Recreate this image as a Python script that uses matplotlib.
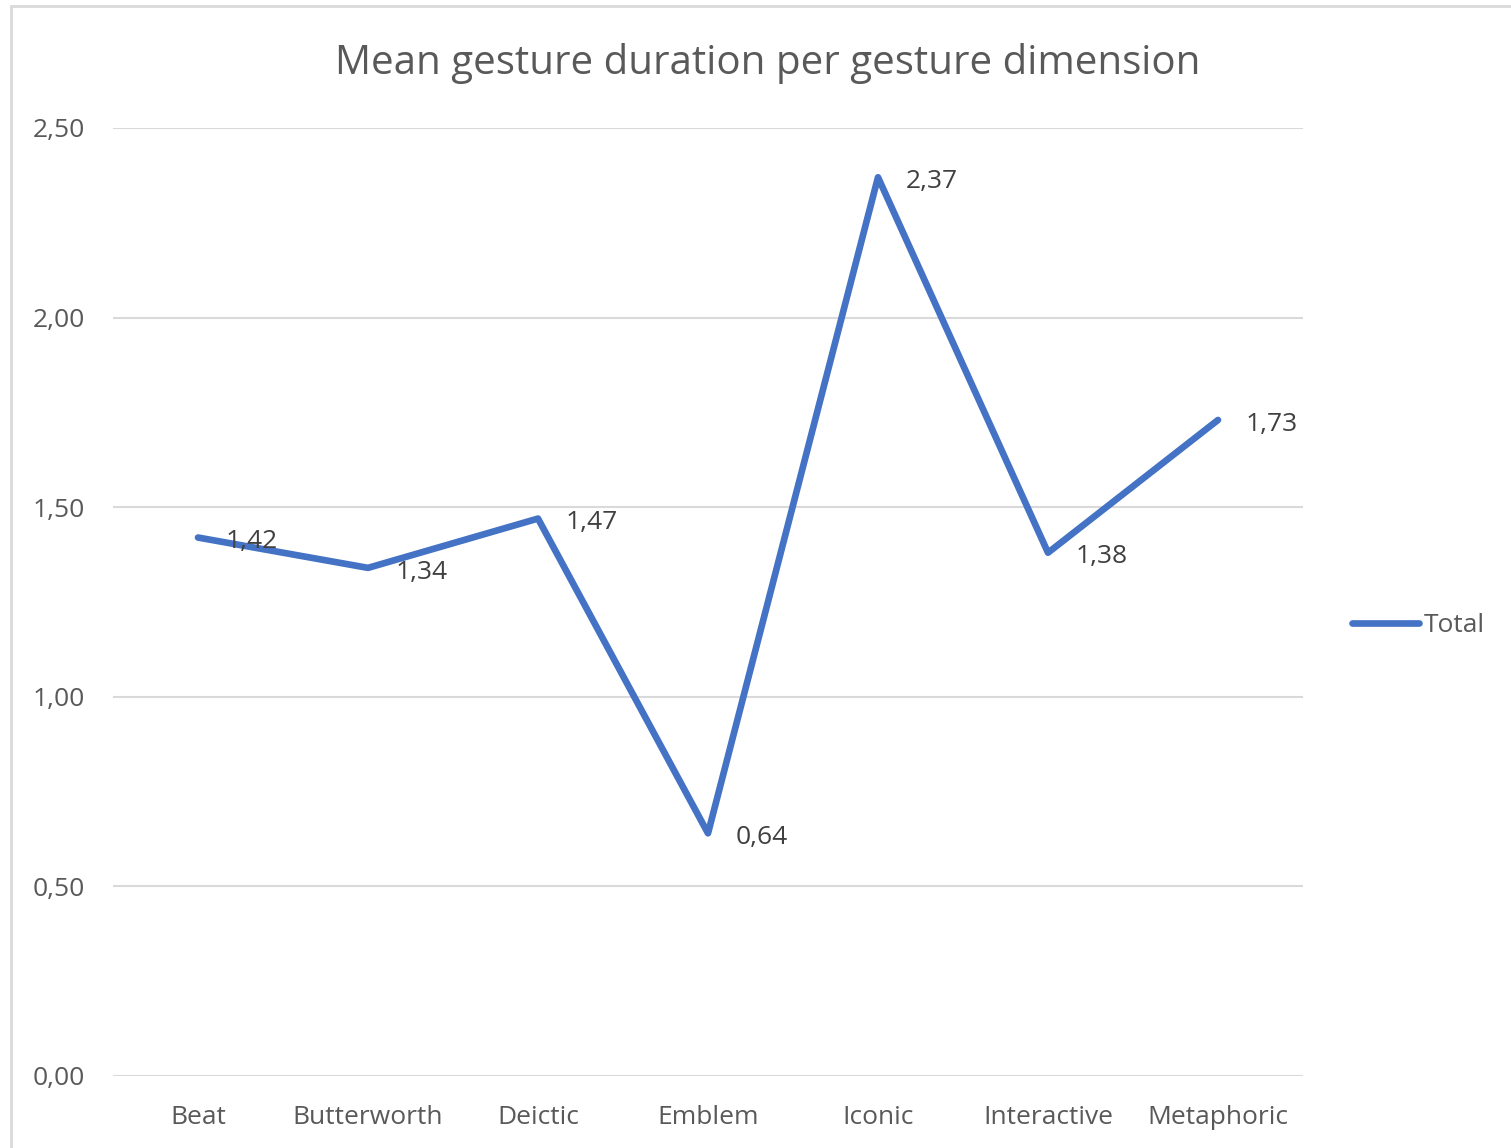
import matplotlib
matplotlib.use("Agg")
import matplotlib.pyplot as plt
from matplotlib.patches import Rectangle

categories = ["Beat", "Butterworth", "Deictic", "Emblem", "Iconic", "Interactive", "Metaphoric"]
values = [1.42, 1.34, 1.47, 0.64, 2.37, 1.38, 1.73]
yticks = [0.0, 0.5, 1.0, 1.5, 2.0, 2.5]
series_name = "Total"
title = "Mean gesture duration per gesture dimension"

plt.rcParams['font.family'] = ['Open Sans', 'DejaVu Sans']

W, H = 1511, 1148
FS = 19
fig = plt.figure(figsize=(W/100, H/100), dpi=100)
fig.patch.set_facecolor("white")
# outer chart border (left/top visible)
fig.patches.append(Rectangle((11/W, -0.05), 1.2, 1 - 6/H + 0.05, transform=fig.transFigure,
                             fill=False, edgecolor="#d9d9d9", linewidth=2, zorder=0))

ax = fig.add_axes([113/W, 1 - 1076/H, (1303-113)/W, (1076-128)/H])
x = list(range(len(categories)))
line, = ax.plot(x, values, color="#4472C4", linewidth=4.8, solid_capstyle="round",
                solid_joinstyle="round", label=series_name, zorder=3)

ax.set_xlim(-0.5, len(categories) - 0.5)
ax.set_ylim(0, 2.5)
ax.set_yticks(yticks)
ax.set_yticklabels([f"{v:.2f}".replace(".", ",") for v in yticks])
ax.set_xticks(x)
ax.set_xticklabels(categories)
ax.tick_params(axis="both", length=0, labelsize=FS, labelcolor="#595959")
ax.tick_params(axis="y", pad=20)
ax.tick_params(axis="x", pad=21)
ax.grid(axis="y", color="#d9d9d9", linewidth=1.5)
ax.set_axisbelow(True)
for s in ax.spines.values():
    s.set_visible(False)

for xi, v in zip(x, values):
    ax.annotate(f"{v:.2f}".replace(".", ","), (xi, v), xytext=(20, -3), textcoords="offset points",
                ha="left", va="center", fontsize=FS, color="#404040", zorder=4)

fig.text(768/W, 1 - 64/H, title, ha="center", va="center", fontsize=29, color="#595959")

fig.legend(handles=[line], loc="center left", bbox_to_anchor=(1352/W, 1 - 626/H),
           frameon=False, fontsize=FS, labelcolor="#595959", handlelength=2.55,
           handletextpad=0.15, borderpad=0, borderaxespad=0)

fig.savefig("out.png", dpi=100)
